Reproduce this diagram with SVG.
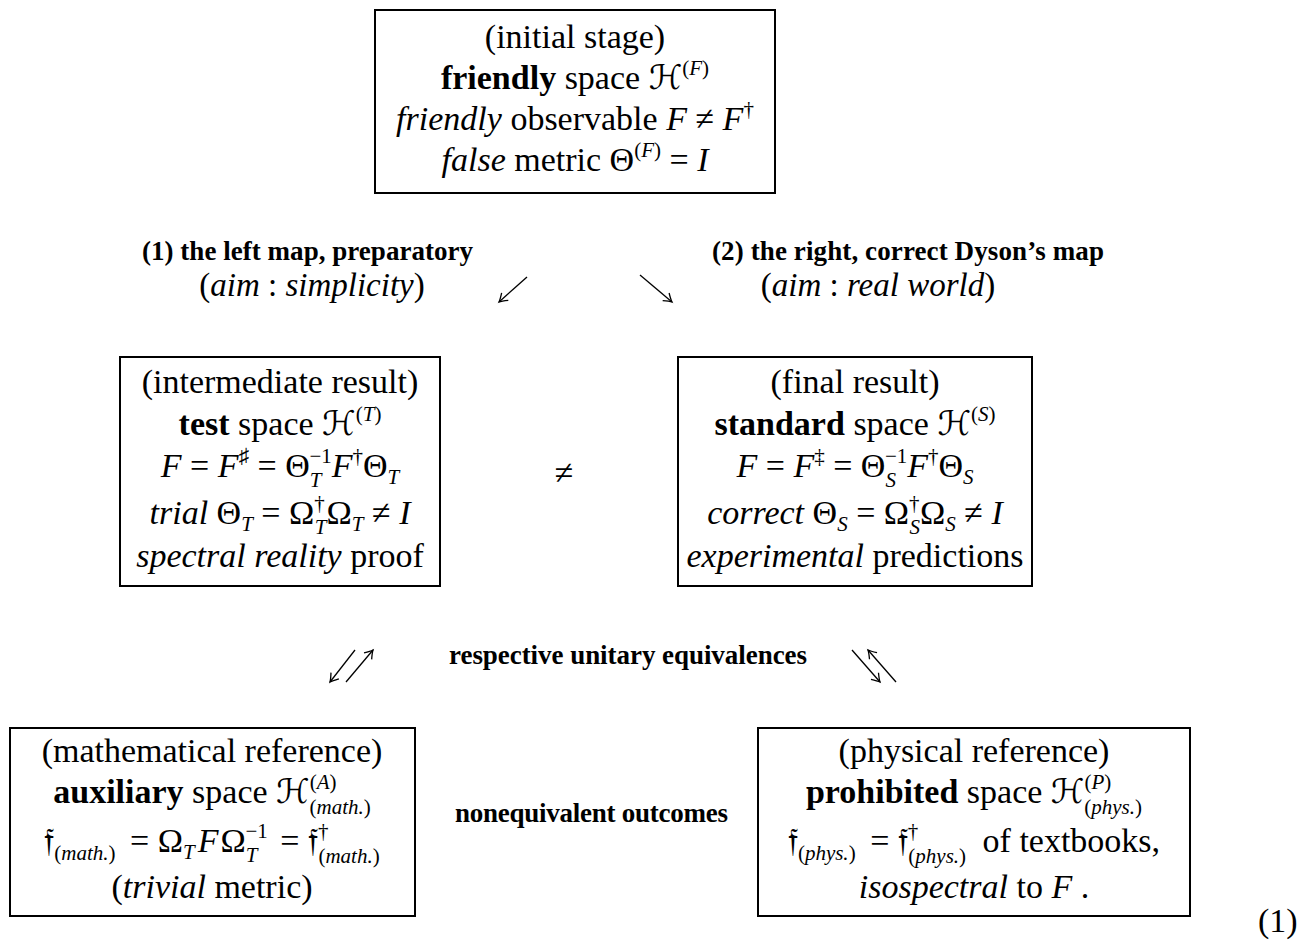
<svg xmlns="http://www.w3.org/2000/svg" width="1301" height="949" viewBox="0 0 1301 949">
<defs>
<style>
text { font-family: "Liberation Serif", "DejaVu Serif", "DejaVu Sans", serif; font-size: 34px; fill: #000; }
.c { text-anchor: middle; }
.i { font-style: italic; }
.b { font-weight: bold; }
.sc { font-size: 21px; }
.lbl { font-size: 27px; font-weight: bold; }
.aim { font-size: 33px; }
.box { fill: #fff; stroke: #000; stroke-width: 2; }
.arr { stroke: #000; stroke-width: 1.3; fill: none; marker-end: url(#ah); }
</style>
<marker id="ah" markerUnits="userSpaceOnUse" markerWidth="14" markerHeight="14" viewBox="-10 -7 12 14" refX="0" refY="0" orient="auto">
<path d="M-8,-5 Q-2.5,-1 0,0 Q-2.5,1 -8,5" fill="none" stroke="#000" stroke-width="1.3"/>
</marker>
</defs>
<rect width="1301" height="949" fill="#fff"/>

<g id="connectors">
<line class="arr" x1="527" y1="277" x2="499" y2="302"/>
<line class="arr" x1="640" y1="275" x2="672" y2="302"/>
<line class="arr" x1="355" y1="650" x2="330" y2="682"/>
<line class="arr" x1="346" y1="682" x2="373" y2="650"/>
<line class="arr" x1="852" y1="650" x2="880" y2="682"/>
<line class="arr" x1="896" y1="682" x2="868" y2="650"/>
</g>

<g id="labels">
<text class="lbl" x="142" y="260" textLength="331" lengthAdjust="spacing">(1) the left map, preparatory</text>
<text class="c aim" x="312" y="296">(<tspan class="i">aim</tspan> :  <tspan class="i">simplicity</tspan>)</text>
<text class="lbl" x="712" y="260" textLength="392" lengthAdjust="spacing">(2) the right, correct Dyson’s map</text>
<text class="c aim" x="878" y="296">(<tspan class="i">aim</tspan> :  <tspan class="i">real world</tspan>)</text>
<text class="c" x="564" y="484">≠</text>
<text class="lbl" x="449" y="664" textLength="358" lengthAdjust="spacing">respective unitary equivalences</text>
<text class="lbl" x="455" y="822" textLength="273" lengthAdjust="spacing">nonequivalent outcomes</text>
<text x="1258" y="932">(1)</text>
</g>

<g id="initial">
<rect class="box" x="375" y="10" width="400" height="183"/>
<text class="c" x="575" y="48">(initial stage)</text>
<text class="c" x="575" y="89"><tspan class="b">friendly</tspan> space ℋ<tspan class="sc" dy="-14">(<tspan class="i">F</tspan>)</tspan></text>
<text class="c" x="575" y="130"><tspan class="i">friendly</tspan> observable <tspan class="i">F</tspan> ≠ <tspan class="i">F</tspan><tspan class="sc" dy="-14">†</tspan></text>
<text class="c" x="575" y="171"><tspan class="i">false</tspan> metric Θ<tspan class="sc" dy="-14">(<tspan class="i">F</tspan>)</tspan><tspan dy="14"> = </tspan><tspan class="i">I</tspan></text>
</g>

<g id="intermediate">
<rect class="box" x="120" y="357" width="320" height="229"/>
<text class="c" x="280" y="393">(intermediate result)</text>
<text class="c" x="280" y="435"><tspan class="b">test</tspan> space ℋ<tspan class="sc" dy="-14">(<tspan class="i">T</tspan>)</tspan></text>
<text class="c" x="280" y="477"><tspan class="i">F</tspan> = <tspan class="i">F</tspan><tspan class="sc" dy="-14">♯</tspan><tspan dy="14"> = Θ</tspan><tspan class="sc i" dy="10">T</tspan><tspan class="sc" dx="-12" dy="-24">−1</tspan><tspan class="i" dy="14">F</tspan><tspan class="sc" dy="-14">†</tspan><tspan dy="14">Θ</tspan><tspan class="sc i" dy="7">T</tspan></text>
<text class="c" x="280" y="524"><tspan class="i">trial</tspan> Θ<tspan class="sc i" dy="7">T</tspan><tspan dy="-7"> = Ω</tspan><tspan class="sc" dy="-14">†</tspan><tspan class="sc i" dx="-10" dy="24">T</tspan><tspan dy="-10">Ω</tspan><tspan class="sc i" dy="7">T</tspan><tspan dy="-7"> ≠ </tspan><tspan class="i">I</tspan></text>
<text class="c" x="280" y="567"><tspan class="i">spectral reality</tspan> proof</text>
</g>

<g id="final">
<rect class="box" x="678" y="357" width="354" height="229"/>
<text class="c" x="855" y="393">(final result)</text>
<text class="c" x="855" y="435"><tspan class="b">standard</tspan> space ℋ<tspan class="sc" dy="-14">(<tspan class="i">S</tspan>)</tspan></text>
<text class="c" x="855" y="477"><tspan class="i">F</tspan> = <tspan class="i">F</tspan><tspan class="sc" dy="-14">‡</tspan><tspan dy="14"> = Θ</tspan><tspan class="sc i" dy="10">S</tspan><tspan class="sc" dx="-11" dy="-24">−1</tspan><tspan class="i" dy="14">F</tspan><tspan class="sc" dy="-14">†</tspan><tspan dy="14">Θ</tspan><tspan class="sc i" dy="7">S</tspan></text>
<text class="c" x="855" y="524"><tspan class="i">correct</tspan> Θ<tspan class="sc i" dy="7">S</tspan><tspan dy="-7"> = Ω</tspan><tspan class="sc" dy="-14">†</tspan><tspan class="sc i" dx="-10" dy="24">S</tspan><tspan dy="-10">Ω</tspan><tspan class="sc i" dy="7">S</tspan><tspan dy="-7"> ≠ </tspan><tspan class="i">I</tspan></text>
<text class="c" x="855" y="567"><tspan class="i">experimental</tspan> predictions</text>
</g>

<g id="auxiliary">
<rect class="box" x="10" y="728" width="405" height="188"/>
<text class="c" x="212" y="762">(mathematical reference)</text>
<text class="c" x="212" y="803"><tspan class="b">auxiliary</tspan> space ℋ<tspan class="sc" dy="-14">(<tspan class="i">A</tspan>)</tspan><tspan class="sc" dx="-27" dy="25">(<tspan class="i">math.</tspan>)</tspan></text>
<text class="c" x="212" y="852">𝔣<tspan class="sc" dy="8">(<tspan class="i">math.</tspan>)</tspan><tspan dx="6" dy="-8"> = Ω</tspan><tspan class="sc i" dy="7">T</tspan><tspan class="i" dx="3" dy="-7">F</tspan><tspan dx="2">Ω</tspan><tspan class="sc i" dy="10">T</tspan><tspan class="sc" dx="-12" dy="-24">−1</tspan><tspan dx="4" dy="14"> = 𝔣</tspan><tspan class="sc" dy="-14">†</tspan><tspan class="sc" dx="-10" dy="25">(<tspan class="i">math.</tspan>)</tspan></text>
<text class="c" x="212" y="898">(<tspan class="i">trivial</tspan> metric)</text>
</g>

<g id="prohibited">
<rect class="box" x="758" y="728" width="432" height="188"/>
<text class="c" x="974" y="762">(physical reference)</text>
<text class="c" x="974" y="803"><tspan class="b">prohibited</tspan> space ℋ<tspan class="sc" dy="-14">(<tspan class="i">P</tspan>)</tspan><tspan class="sc" dx="-27" dy="25">(<tspan class="i">phys.</tspan>)</tspan></text>
<text class="c" x="974" y="852">𝔣<tspan class="sc" dy="8">(<tspan class="i">phys.</tspan>)</tspan><tspan dx="6" dy="-8"> = 𝔣</tspan><tspan class="sc" dy="-14">†</tspan><tspan class="sc" dx="-10" dy="25">(<tspan class="i">phys.</tspan>)</tspan><tspan dx="8" dy="-11"> of textbooks,</tspan></text>
<text class="c" x="974" y="898"><tspan class="i">isospectral</tspan> to <tspan class="i">F</tspan> .</text>
</g>
</svg>
